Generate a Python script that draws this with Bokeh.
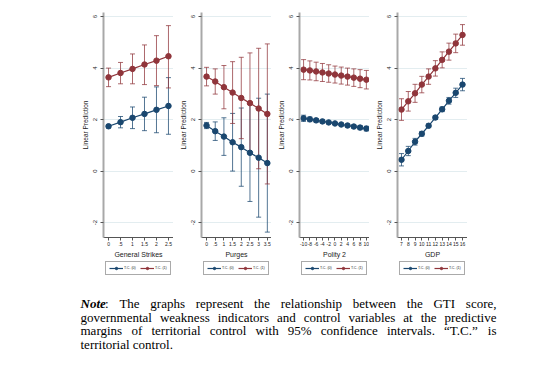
from bokeh.plotting import figure
from bokeh.models import (Range1d, FixedTicker, ColumnDataSource, Whisker, TeeHead,
                          Legend, LegendItem, Spacer)
from bokeh.layouts import row, column
from bokeh.embed import file_html
from bokeh.resources import INLINE
from bokeh.core.properties import value

# ---------------- data ----------------
Y_TICKS = [-2, 0, 2, 4, 6]
LEGEND_LABELS = ["T.C. (0)", "T.C. (1)"]

gs_x = [0, 0.5, 1, 1.5, 2, 2.5]
gs_tc0 = [1.74, 1.90, 2.07, 2.22, 2.38, 2.53]
gs_tc0_lo = [1.67, 1.68, 1.65, 1.57, 1.49, 1.43]
gs_tc0_hi = [1.81, 2.12, 2.49, 2.87, 3.27, 3.63]
gs_tc1 = [3.64, 3.81, 3.97, 4.14, 4.29, 4.46]
gs_tc1_lo = [3.28, 3.39, 3.39, 3.36, 3.32, 3.23]
gs_tc1_hi = [4.00, 4.22, 4.55, 4.90, 5.26, 5.65]
gs_ticks = [0, 0.5, 1, 1.5, 2, 2.5]
gs_labels = ["0", ".5", "1", "1.5", "2", "2.5"]

pu_x = [0, 0.5, 1, 1.5, 2, 2.5, 3, 3.5]
pu_tc0 = [1.77, 1.55, 1.34, 1.12, 0.93, 0.71, 0.52, 0.31]
pu_tc0_lo = [1.65, 1.19, 0.61, 0.00, -0.59, -1.18, -1.79, -2.37]
pu_tc0_hi = [1.89, 1.91, 2.07, 2.24, 2.45, 2.60, 2.83, 2.99]
pu_tc1 = [3.67, 3.48, 3.26, 3.05, 2.84, 2.64, 2.43, 2.22]
pu_tc1_lo = [3.31, 2.99, 2.42, 1.85, 1.26, 0.69, 0.09, -0.50]
pu_tc1_hi = [4.03, 3.97, 4.10, 4.25, 4.42, 4.59, 4.77, 4.94]
pu_ticks = [0, 0.5, 1, 1.5, 2, 2.5, 3, 3.5]
pu_labels = ["0", ".5", "1", "1.5", "2", "2.5", "3", "3.5"]

po_x = [-10, -8, -6, -4, -2, 0, 2, 4, 6, 8, 10]
po_tc0 = [2.05, 2.01, 1.97, 1.93, 1.89, 1.85, 1.81, 1.77, 1.73, 1.69, 1.65]
po_tc0_lo = [1.93, 1.92, 1.90, 1.88, 1.85, 1.81, 1.77, 1.72, 1.67, 1.61, 1.56]
po_tc0_hi = [2.17, 2.10, 2.04, 1.98, 1.93, 1.89, 1.85, 1.82, 1.79, 1.77, 1.74]
po_tc1 = [3.94, 3.91, 3.87, 3.83, 3.79, 3.75, 3.71, 3.67, 3.63, 3.59, 3.55]
po_tc1_lo = [3.55, 3.54, 3.51, 3.48, 3.45, 3.42, 3.38, 3.34, 3.29, 3.24, 3.19]
po_tc1_hi = [4.33, 4.28, 4.23, 4.18, 4.13, 4.08, 4.04, 4.00, 3.97, 3.94, 3.91]
po_ticks = [-10, -8, -6, -4, -2, 0, 2, 4, 6, 8, 10]
po_labels = ["-10", "-8", "-6", "-4", "-2", "0", "2", "4", "6", "8", "10"]

gd_x = [7, 8, 9, 10, 11, 12, 13, 14, 15, 16]
gd_tc0 = [0.44, 0.78, 1.14, 1.45, 1.76, 2.08, 2.40, 2.73, 3.04, 3.36]
gd_tc0_lo = [0.20, 0.60, 1.01, 1.36, 1.69, 2.01, 2.31, 2.60, 2.86, 3.12]
gd_tc0_hi = [0.68, 0.96, 1.27, 1.54, 1.83, 2.15, 2.49, 2.86, 3.22, 3.60]
gd_tc1 = [2.39, 2.71, 3.02, 3.36, 3.67, 3.99, 4.32, 4.64, 4.96, 5.29]
gd_tc1_lo = [1.97, 2.33, 2.67, 3.04, 3.37, 3.69, 4.01, 4.31, 4.60, 4.89]
gd_tc1_hi = [2.81, 3.09, 3.37, 3.68, 3.97, 4.29, 4.63, 4.97, 5.32, 5.69]
gd_ticks = [7, 8, 9, 10, 11, 12, 13, 14, 15, 16]
gd_labels = ["7", "8", "9", "10", "11", "12", "13", "14", "15", "16"]

NOTE_LINES = [
    "Note: The graphs represent the relationship between the GTI score,",
    "governmental weakness indicators and control variables at the predictive",
    "margins of territorial control with 95% confidence intervals. \u201cT.C.\u201d is",
    "territorial control.",
]

# ---------------- style ----------------
NAVY = "#1a476f"
MAROON = "#90353b"
SANS = "Liberation Sans"
SERIF = "Liberation Serif"
COLORS = [NAVY, MAROON]


def make_panel(xlabel, x, ticks, labels, xr, tc0, lo0, hi0, tc1, lo1, hi1):
    p = figure(frame_width=70, frame_height=225, x_range=Range1d(*xr),
               y_range=Range1d(-2.58, 6.16), output_backend="svg",
               toolbar_location=None, min_border_left=28, min_border_right=0,
               min_border_top=12, min_border_bottom=22)
    p.outline_line_color = None
    p.background_fill_color = "white"
    p.border_fill_color = "white"
    p.xgrid.visible = False
    p.ygrid.ticker = FixedTicker(ticks=Y_TICKS)
    p.ygrid.grid_line_color = "#e3edf0"
    p.ygrid.grid_line_width = 1

    ya = p.yaxis[0]
    ya.ticker = FixedTicker(ticks=Y_TICKS)
    ya.major_label_overrides = {t: str(t) for t in Y_TICKS}
    ya.major_label_orientation = "vertical"
    ya.axis_label = "Linear Prediction"
    ya.axis_label_text_font = SANS
    ya.axis_label_text_font_size = "6.5px"
    ya.axis_label_text_font_style = "normal"
    ya.axis_label_text_color = "#222222"
    ya.axis_label_standoff = 2
    ya.major_label_text_font = SANS
    ya.major_label_text_font_size = "6px"
    ya.major_label_text_color = "#222222"
    ya.major_label_standoff = 3
    ya.axis_line_color = "#a8a8a8"
    ya.axis_line_width = 2
    ya.major_tick_line_color = "#555555"
    ya.major_tick_in = 0
    ya.major_tick_out = 3
    ya.minor_tick_line_color = None

    xa = p.xaxis[0]
    xa.ticker = FixedTicker(ticks=ticks)
    xa.major_label_overrides = {t: l for t, l in zip(ticks, labels)}
    xa.axis_label = xlabel
    xa.axis_label_text_font = SANS
    xa.axis_label_text_font_size = "7px"
    xa.axis_label_text_font_style = "normal"
    xa.axis_label_text_color = "#222222"
    xa.axis_label_standoff = 2
    xa.major_label_text_font = SANS
    xa.major_label_text_font_size = "5px"
    xa.major_label_text_color = "#222222"
    xa.major_label_standoff = 1
    xa.axis_line_color = "#555555"
    xa.axis_line_width = 1
    xa.major_tick_line_color = "#555555"
    xa.major_tick_in = 0
    xa.major_tick_out = 3
    xa.minor_tick_line_color = None

    for ys, lo, hi, col in ((tc0, lo0, hi0, NAVY), (tc1, lo1, hi1, MAROON)):
        src = ColumnDataSource(dict(x=x, y=ys, lo=lo, hi=hi))
        w = Whisker(source=src, base="x", lower="lo", upper="hi",
                    line_color=col, line_alpha=0.75, line_width=1,
                    upper_head=TeeHead(size=5, line_color=col, line_alpha=0.75, line_width=1),
                    lower_head=TeeHead(size=5, line_color=col, line_alpha=0.75, line_width=1))
        p.add_layout(w)
        p.line("x", "y", source=src, line_color=col, line_width=1.2)
        p.scatter("x", "y", source=src, size=5.5, fill_color=col, line_color=col)
    return p


def make_legend_fig():
    lf = figure(width=98, height=18, x_range=Range1d(0, 1), y_range=Range1d(0, 1),
                output_backend="svg", toolbar_location=None, min_border=0,
                outline_line_color=None)
    lf.axis.visible = False
    lf.grid.visible = False
    items = []
    for i, col in enumerate(COLORS):
        # one point outside the visible range, so that only the legend glyph shows
        ln = lf.line(x=[5, 6], y=[5, 5], line_color=col, line_width=1.2)
        sc = lf.scatter(x=[5], y=[5], size=5, fill_color=col, line_color=col)
        items.append(LegendItem(label=LEGEND_LABELS[i], renderers=[ln, sc]))
    lg = Legend(items=items, orientation="horizontal", location=(30, 3),
                label_text_font=SANS, label_text_font_size="3.6px",
                label_text_color="#222222",
                glyph_width=14, glyph_height=6, label_height=6, label_width=12,
                label_standoff=1, spacing=4, padding=3, margin=0,
                border_line_color="#555555", border_line_width=1,
                background_fill_color="white")
    lf.add_layout(lg, "center")
    return lf


p1 = make_panel("General Strikes", gs_x, gs_ticks, gs_labels, (-0.21, 2.71),
                gs_tc0, gs_tc0_lo, gs_tc0_hi, gs_tc1, gs_tc1_lo, gs_tc1_hi)
p2 = make_panel("Purges", pu_x, pu_ticks, pu_labels, (-0.29, 3.74),
                pu_tc0, pu_tc0_lo, pu_tc0_hi, pu_tc1, pu_tc1_lo, pu_tc1_hi)
p3 = make_panel("Polity 2", po_x, po_ticks, po_labels, (-11.3, 11.0),
                po_tc0, po_tc0_lo, po_tc0_hi, po_tc1, po_tc1_lo, po_tc1_hi)
p4 = make_panel("GDP", gd_x, gd_ticks, gd_labels, (6.41, 16.74),
                gd_tc0, gd_tc0_lo, gd_tc0_hi, gd_tc1, gd_tc1_lo, gd_tc1_hi)
legs = [make_legend_fig() for _ in range(4)]

# ---------------- note (justified text) ----------------
TW = {'a': 444, 'b': 500, 'c': 444, 'd': 500, 'e': 444, 'f': 333, 'g': 500, 'h': 500,
      'i': 278, 'j': 278, 'k': 500, 'l': 278, 'm': 778, 'n': 500, 'o': 500, 'p': 500,
      'q': 500, 'r': 333, 's': 389, 't': 278, 'u': 500, 'v': 500, 'w': 722, 'x': 500,
      'y': 500, 'z': 444, 'T': 611, 'G': 722, 'I': 333, 'C': 667, 'N': 722,
      '%': 833, ':': 278, ',': 250, '.': 250, '\u201c': 444, '\u201d': 444, ' ': 250}
FS = 13.0
NOTE_W = 534
NOTE_H = 86
NOTE_BW = (667 + 500 + 278 + 444) * FS / 1000.0


def tw(s):
    return sum(TW.get(ch, 500) for ch in s) * FS / 1000.0


note = figure(width=NOTE_W, height=NOTE_H, x_range=Range1d(0, NOTE_W),
              y_range=Range1d(NOTE_H, 0), output_backend="svg", toolbar_location=None,
              min_border=0, outline_line_color=None)
note.axis.visible = False
note.grid.visible = False
note.border_fill_color = "white"

x0 = 80.0
target = 416.0
line_y = [25, 38.5, 52, 65.5]
xs, ys, ts = [], [], []
bx, by, bt = [], [], []
for li, line in enumerate(NOTE_LINES):
    words = line.split(" ")
    widths = []
    for wd in words:
        if wd.startswith("Note"):
            widths.append(NOTE_BW + tw(wd[4:]))
        else:
            widths.append(tw(wd))
    if li < len(NOTE_LINES) - 1:
        gap = (target - sum(widths)) / (len(words) - 1)
    else:
        gap = tw(" ")
    cx = x0
    for wd, wdt in zip(words, widths):
        if wd.startswith("Note"):
            bx.append(cx); by.append(line_y[li]); bt.append("Note")
            xs.append(cx + NOTE_BW)
            ys.append(line_y[li]); ts.append(wd[4:])
        else:
            xs.append(cx); ys.append(line_y[li]); ts.append(wd)
        cx += wdt + gap

note.text(x=xs, y=ys, text=ts, text_font=value(SERIF), text_font_size="13px",
          text_baseline="middle", text_align="left", text_color="black")
note.text(x=bx, y=by, text=bt, text_font=value(SERIF), text_font_size="13px",
          text_font_style="bold italic", text_baseline="middle", text_align="left",
          text_color="black")

layout = column(row(Spacer(width=75, height=10), p1, p2, p3, p4),
                row(Spacer(width=75, height=10), *legs),
                note)

open("out.html", "w").write(file_html(layout, INLINE))
